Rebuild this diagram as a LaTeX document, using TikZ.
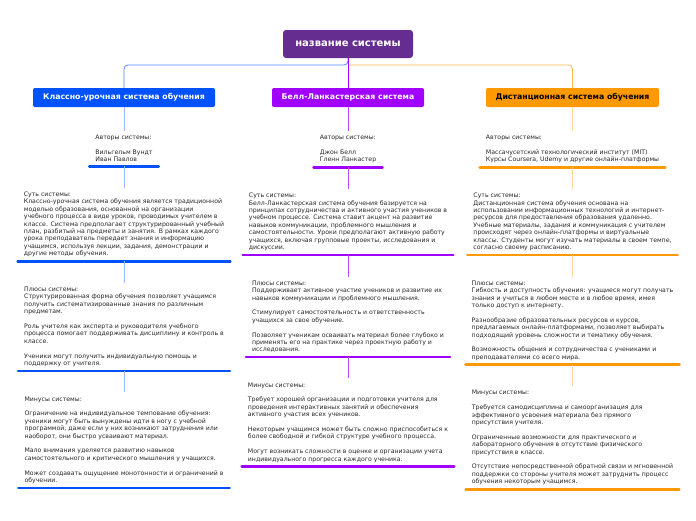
\documentclass[tikz,border=0pt]{standalone}
\usepackage{fontspec}
\setmainfont{DejaVu Sans}
\usetikzlibrary{positioning}

\definecolor{rootpurple}{RGB}{102,45,145}
\definecolor{cblue}{RGB}{0,82,255}
\definecolor{cviolet}{RGB}{160,0,255}
\definecolor{corange}{RGB}{255,153,0}

\newcommand\blankln{\\[7.4pt]}

\tikzset{
  rootbox/.style={fill=rootpurple,text=white,rounded corners=3pt,minimum width=130pt,minimum height=28pt,font=\bfseries\fontsize{10}{12}\selectfont},
  sysbox/.style={rounded corners=2pt,minimum height=19pt,inner xsep=4pt,font=\bfseries\fontsize{7.8}{9}\selectfont},
  textblock/.style={align=left,inner xsep=6pt,inner ysep=4pt,font=\fontsize{6.2}{7.4}\selectfont,text=black!85},
  uline/.style={line width=2.6pt,line cap=round},
  link/.style={line width=0.8pt},
}

\begin{document}
\begin{tikzpicture}[x=1pt,y=-1pt,node distance=21.5pt]
	\useasboundingbox (0,0) rectangle (696,520);
	\node[rootbox] (root) at (348,44) {название системы};
	\node[sysbox,fill=cblue,text=white,minimum width=182pt] (h1) at (124,97.5) {Классно-урочная система обучения};
	\node[sysbox,fill=cviolet,text=white,minimum width=152pt] (h2) at (348,97.5) {Белл-Ланкастерская система};
	\node[sysbox,fill=corange,text=black,minimum width=173pt] (h3) at (572.5,97.5) {Дистанционная система обучения};
	\coordinate (fork) at (348,65);
	\draw[link,cblue!70,rounded corners=4pt] (root.south) -- (fork) -| (h1.north);
	\draw[link,corange!70,rounded corners=4pt] (fork) -| (h3.north);
	\draw[link,cviolet] (root.south) -- (h2.north);
	% Классно-урочная
	\node[textblock,anchor=north] (a1) at (124,131) {Авторы системы:\blankln Вильгельм Вундт\\Иван Павлов};
	\node[textblock,below=of a1] (s1) {Суть системы:\\Классно-урочная система обучения является традиционной\\моделью образования, основанной на организации\\учебного процесса в виде уроков, проводимых учителем в\\классе. Система предполагает структурированный учебный\\план, разбитый на предметы и занятия. В рамках каждого\\урока преподаватель передает знания и информацию\\учащимся, используя лекции, задания, демонстрации и\\другие методы обучения.};
	\node[textblock,below=of s1] (p1) {Плюсы системы:\\Структурированная форма обучения позволяет учащимся\\получить систематизированные знания по различным\\предметам.\blankln Роль учителя как эксперта и руководителя учебного\\процесса помогает поддерживать дисциплину и контроль в\\классе.\blankln Ученики могут получить индивидуальную помощь и\\поддержку от учителя.};
	\node[textblock,below=of p1] (m1) {Минусы системы:\blankln Ограничение на индивидуальное темпование обучения:\\ученики могут быть вынуждены идти в ногу с учебной\\программой, даже если у них возникают затруднения или\\наоборот, они быстро усваивают материал.\blankln Мало внимания уделяется развитию навыков\\самостоятельного и критического мышления у учащихся.\blankln Может создавать ощущение монотонности и ограничений в\\обучении.};
	% Белл-Ланкастерская
	\node[textblock,anchor=north] (a2) at (348,131) {Авторы системы:\blankln Джон Белл\\Гленн Ланкастер};
	\node[textblock,below=of a2] (s2) {Суть системы:\\Белл-Ланкастерская система обучения базируется на\\принципах сотрудничества и активного участия учеников в\\учебном процессе. Система ставит акцент на развитие\\навыков коммуникации, проблемного мышления и\\самостоятельности. Уроки предполагают активную работу\\учащихся, включая групповые проекты, исследования и\\дискуссии.};
	\node[textblock,below=of s2] (p2) {Плюсы системы:\\Поддерживает активное участие учеников и развитие их\\навыков коммуникации и проблемного мышления.\blankln Стимулирует самостоятельность и ответственность\\учащихся за свое обучение.\blankln Позволяет ученикам осваивать материал более глубоко и\\применять его на практике через проектную работу и\\исследования.};
	\node[textblock,below=of p2] (m2) {Минусы системы:\blankln Требует хорошей организации и подготовки учителя для\\проведения интерактивных занятий и обеспечения\\активного участия всех учеников.\blankln Некоторым учащимся может быть сложно приспособиться к\\более свободной и гибкой структуре учебного процесса.\blankln Могут возникать сложности в оценке и организации учета\\индивидуального прогресса каждого ученика.};
	% Дистанционная
	\node[textblock,anchor=north] (a3) at (572.5,131) {Авторы системы:\blankln Массачусетский технологический институт (MIT)\\Курсы Coursera, Udemy и другие онлайн-платформы};
	\node[textblock,below=of a3] (s3) {Суть системы:\\Дистанционная система обучения основана на\\использовании информационных технологий и интернет-\\ресурсов для предоставления образования удаленно.\\Учебные материалы, задания и коммуникация с учителем\\происходят через онлайн-платформы и виртуальные\\классы. Студенты могут изучать материалы в своем темпе,\\согласно своему расписанию.};
	\node[textblock,below=of s3] (p3) {Плюсы системы:\\Гибкость и доступность обучения: учащиеся могут получать\\знания и учиться в любом месте и в любое время, имея\\только доступ к интернету.\blankln Разнообразие образовательных ресурсов и курсов,\\предлагаемых онлайн-платформами, позволяет выбирать\\подходящий уровень сложности и тематику обучения.\blankln Возможность общения и сотрудничества с учениками и\\преподавателями со всего мира.};
	\node[textblock,below=of p3] (m3) {Минусы системы:\blankln Требуется самодисциплина и самоорганизация для\\эффективного усвоения материала без прямого\\присутствия учителя.\blankln Ограниченные возможности для практического и\\лабораторного обучения в отсутствие физического\\присутствия в классе.\blankln Отсутствие непосредственной обратной связи и мгновенной\\поддержки со стороны учителя может затруднить процесс\\обучения некоторым учащимся.};
	% underlines and links
	\foreach \n in {a1,s1,p1,m1} \draw[uline,cblue] (\n.south west) -- (\n.south east);
	\foreach \n in {a2,s2,p2,m2} \draw[uline,cviolet] (\n.south west) -- (\n.south east);
	\foreach \n in {a3,s3,p3,m3} \draw[uline,corange] (\n.south west) -- (\n.south east);
	\draw[link,cblue!40] (h1) -- (a1) (a1) -- (s1) (s1) -- (p1) (p1) -- (m1);
	\draw[link,cviolet!70] (h2) -- (a2) (a2) -- (s2) (s2) -- (p2) (p2) -- (m2);
	\draw[link,corange!40] (h3) -- (a3) (a3) -- (s3) (s3) -- (p3) (p3) -- (m3);
\end{tikzpicture}
\end{document}
